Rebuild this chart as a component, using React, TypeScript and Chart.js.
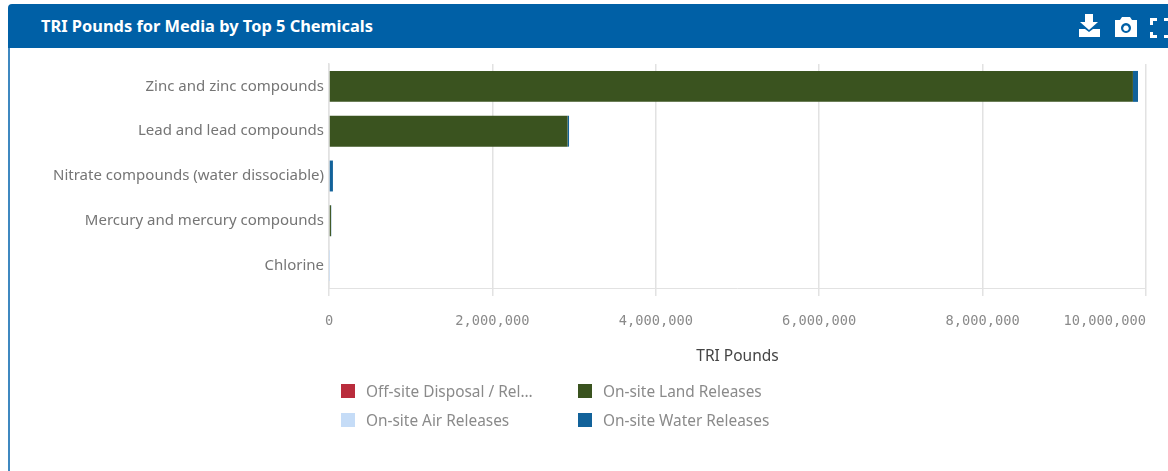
import React, { useEffect, useRef } from "react";
import { Chart, registerables } from "chart.js";

Chart.register(...registerables);

const title = "TRI Pounds for Media by Top 5 Chemicals";
const axisTitle = "TRI Pounds";
const categories = [
  "Zinc and zinc compounds",
  "Lead and lead compounds",
  "Nitrate compounds (water dissociable)",
  "Mercury and mercury compounds",
  "Chlorine",
];
const offSite = [0, 0, 0, 0, 0];
const land = [9840000, 2920000, 0, 24000, 0];
const air = [0, 0, 0, 0, 1500];
const water = [62000, 18000, 48000, 3000, 0];
const legendNames = [
  "Off-site Disposal / Rel…",
  "On-site Land Releases",
  "On-site Air Releases",
  "On-site Water Releases",
];
const seriesNames = [
  "Off-site Disposal / Releases",
  "On-site Land Releases",
  "On-site Air Releases",
  "On-site Water Releases",
];
const seriesColors = ["#b92c3c", "#3a531f", "#c5dcf7", "#12629a"];
const seriesValues = [offSite, land, air, water];

const tickFont = '"DejaVu Sans Mono", monospace';
const textFont = '"Noto Sans", Lato, sans-serif';

const lastTickInside = {
  id: "lastTickInside",
  beforeDraw(chart: any) {
    const items = chart.scales.x.getLabelItems();
    items[items.length - 1].options.textAlign = "right";
  },
};

export default function App() {
  const ref = useRef<HTMLCanvasElement | null>(null);

  useEffect(() => {
    const chart = new Chart(ref.current!, {
      type: "bar",
      plugins: [lastTickInside],
      data: {
        labels: categories,
        datasets: seriesNames.map((name, i) => ({
          label: name,
          data: seriesValues[i],
          backgroundColor: seriesColors[i],
          categoryPercentage: 0.69,
          barPercentage: 1,
        })),
      },
      options: {
        indexAxis: "y",
        animation: false,
        responsive: false,
        layout: { padding: { left: 10, top: 64, right: 22, bottom: 103 } },
        plugins: { legend: { display: false }, tooltip: { enabled: false } },
        scales: {
          x: {
            stacked: true,
            min: 0,
            max: 10000000,
            afterFit: (s: any) => {
              s.height = 80;
              s.paddingRight = 0;
              s.paddingLeft = 0;
            },
            grid: { color: "#e2e2e2", lineWidth: 1.5, tickLength: 8 },
            border: { color: "#e2e2e2" },
            ticks: {
              stepSize: 2000000,
              maxRotation: 0,
              padding: 17,
              color: "#8a8a8a",
              font: { family: tickFont, size: 13.7 },
              callback: (v: any) => Number(v).toLocaleString("en-US"),
            },
            title: {
              display: true,
              text: axisTitle,
              color: "#444444",
              font: { family: textFont, size: 15.5 },
              padding: { top: 0, bottom: 2 },
            },
          },
          y: {
            stacked: true,
            afterFit: (s: any) => {
              s.width = 319;
            },
            grid: { display: false, drawTicks: false },
            border: { color: "#e2e2e2", width: 1.5 },
            ticks: {
              padding: 5,
              color: "#757575",
              font: { family: textFont, size: 15 },
            },
          },
        },
      },
    } as any);
    return () => chart.destroy();
  }, []);

  return (
    <div style={{ position: "fixed", left: 0, top: 0, width: 1168, height: 471, overflow: "hidden", background: "#fff", fontFamily: textFont, filter: "blur(0.6px)" }}>
      <div style={{ position: "absolute", left: 8, top: 4, width: 1180, height: 44, background: "#0060a6", borderRadius: "4px 0 0 0" }} />
      <div style={{ position: "absolute", left: 8, top: 48, width: 2, height: 423, background: "#3f88c0" }} />
      <div style={{ position: "absolute", left: 41, top: 16, color: "#fff", fontSize: 16.4, fontWeight: 700, lineHeight: "20px", whiteSpace: "nowrap" }}>{title}</div>
      <svg style={{ position: "absolute", left: 1078, top: 13, width: 90, height: 26 }} viewBox="0 0 90 26">
        <path d="M7 1h8v8h5l-9 8-9-8h5z" fill="#fff" />
        <path d="M1 16h6l4 3 4-3h7v8H1z" fill="#fff" />
        <path fillRule="evenodd" d="M37 7h5l2-3h8l2 3h5v17H37zM48 10a5 5 0 1 0 .01 0zM48 12.500a2.800 2.800 0 1 1-.01 0z" fill="#fff" />
        <path d="M72 5h7v3h-4v4h-3zM86 5h4v3h-4zM72 19h3v3h4v3h-7zM86 22h4v3h-4z" fill="#fff" />
      </svg>
      <canvas ref={ref} width={1168} height={471} style={{ position: "absolute", left: 0, top: 0 }} />
      {legendNames.map((name, i) => (
        <div key={name} style={{ position: "absolute", left: i % 2 ? 578 : 341, top: i < 2 ? 381 : 410, height: 20, display: "flex", alignItems: "center", whiteSpace: "nowrap", color: "#8a8a8a", fontSize: 15.4 }}>
          <span style={{ width: 14, height: 14, background: seriesColors[i], marginRight: 11, display: "inline-block" }} />
          {name}
        </div>
      ))}
    </div>
  );
}
